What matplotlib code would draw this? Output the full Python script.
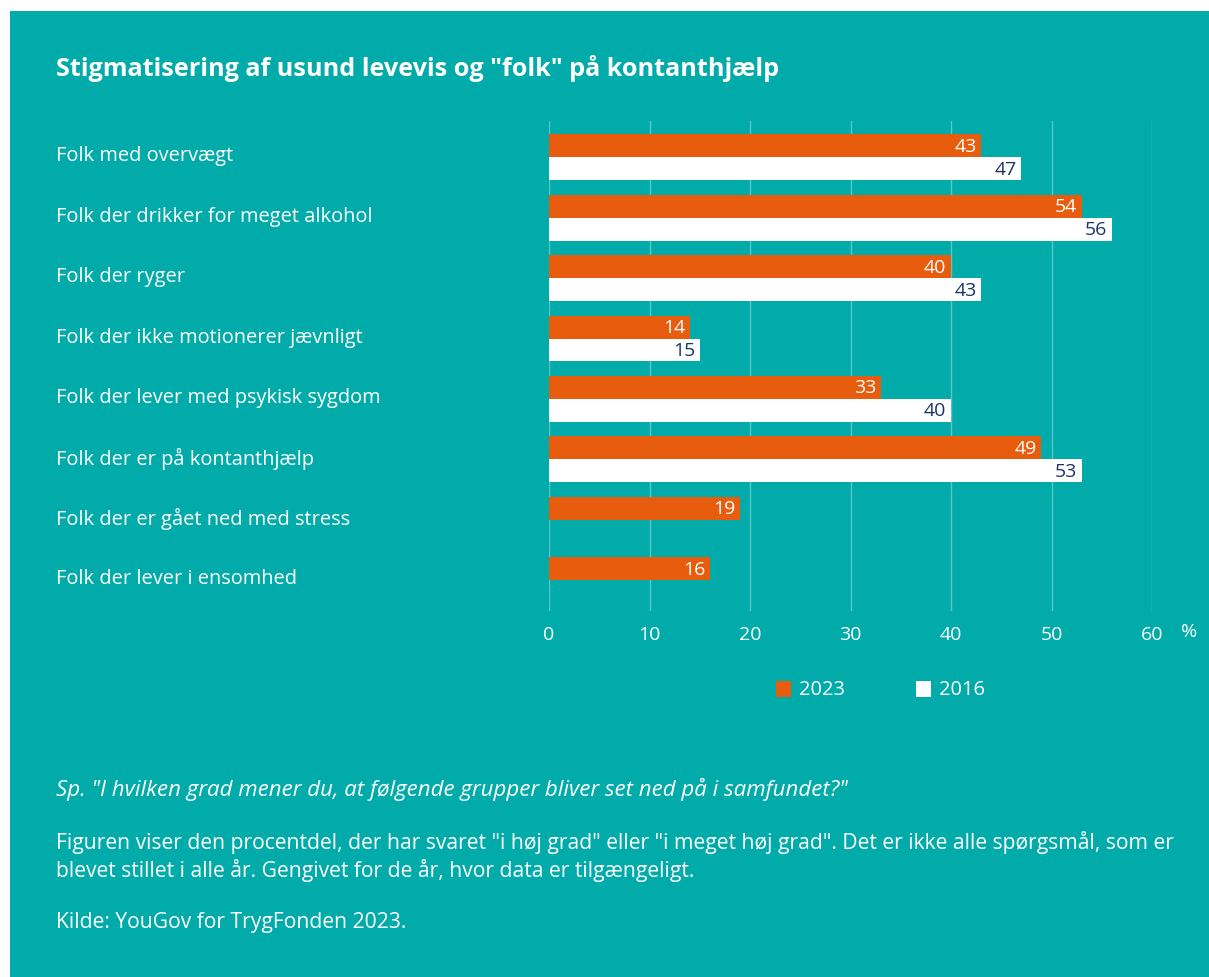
import matplotlib
matplotlib.use("Agg")
import matplotlib.pyplot as plt
from matplotlib.patches import Rectangle
from matplotlib.transforms import blended_transform_factory

categories = [
    "Folk med overvægt",
    "Folk der drikker for meget alkohol",
    "Folk der ryger",
    "Folk der ikke motionerer jævnligt",
    "Folk der lever med psykisk sygdom",
    "Folk der er på kontanthjælp",
    "Folk der er gået ned med stress",
    "Folk der lever i ensomhed",
]
# bar lengths as drawn in the reference
values_2023 = [43, 53, 40, 14, 33, 49, 19, 16]
values_2016 = [47, 56, 43, 15, 40, 53, None, None]
# printed value labels
labels_2023 = ["43", "54", "40", "14", "33", "49", "19", "16"]
labels_2016 = ["47", "56", "43", "15", "40", "53", None, None]
xticks = [0, 10, 20, 30, 40, 50, 60]

TEAL = "#00ABAA"
ORANGE = "#E85C0D"
NAVY = "#1B3566"
GRID = "#5CC6C4"
FONT = ["Open Sans", "DejaVu Sans"]

plt.rcParams["font.family"] = FONT

W, H = 1209, 978
fig = plt.figure(figsize=(W / 100, H / 100), dpi=100, facecolor="white")
fig.patches.append(Rectangle((10 / W, 0), 1 - 10 / W, 1 - 12 / H,
                             transform=fig.transFigure, facecolor=TEAL,
                             edgecolor="none", zorder=-10))

ax = fig.add_axes([549 / W, 1 - 612 / H, 603 / W, 490 / H])
ax.set_facecolor("none")

h = 0.38
for i in range(len(categories)):
    a, la = values_2023[i], labels_2023[i]
    b, lb = values_2016[i], labels_2016[i]
    ax.barh(i - h / 2, a, height=h, color=ORANGE, zorder=3)
    ax.text(a - 0.45, i - h / 2, la, ha="right", va="center",
            color="white", fontsize=14, zorder=4)
    if b is not None:
        ax.barh(i + h / 2, b, height=h, color="white", zorder=3)
        ax.text(b - 0.45, i + h / 2, lb, ha="right", va="center",
                color=NAVY, fontsize=14, zorder=4)

ax.set_xlim(0, 60)
ax.set_ylim(len(categories) - 1 + 0.51, -0.6)
ax.set_xticks(xticks)
ax.set_xticklabels([str(t) for t in xticks])
ax.set_yticks([])
ax.tick_params(axis="x", length=0, pad=10, labelcolor="white", labelsize=14)
for s in ax.spines.values():
    s.set_visible(False)
ax.grid(axis="x", color=GRID, linewidth=1.0, zorder=1)
ax.set_axisbelow(True)

tr = blended_transform_factory(fig.transFigure, ax.transData)
for i, c in enumerate(categories):
    fig.text(56 / W, i - 0.03, c, transform=tr, ha="left", va="center",
             color="white", fontsize=14.4)

fig.text(1189 / W, 1 - 632 / H, "%", ha="center", va="center",
         color="white", fontsize=14)

# title
fig.text(56 / W, 1 - 69 / H, 'Stigmatisering af usund levevis og "folk" på kontanthjælp',
         ha="left", va="center", color="white", fontsize=18.2, fontweight="bold")

# legend
fig.patches.append(Rectangle((776 / W, 1 - 698 / H), 15 / W, 16 / H,
                             transform=fig.transFigure, facecolor=ORANGE,
                             edgecolor="none", zorder=2))
fig.text(799 / W, 1 - 690 / H, "2023", ha="left", va="center",
         color="white", fontsize=14.4)
fig.patches.append(Rectangle((916 / W, 1 - 698 / H), 15 / W, 16 / H,
                             transform=fig.transFigure, facecolor="white",
                             edgecolor="none", zorder=2))
fig.text(939 / W, 1 - 690 / H, "2016", ha="left", va="center",
         color="white", fontsize=14.4)

# notes
fig.text(56 / W, 1 - 789 / H,
         'Sp. "I hvilken grad mener du, at følgende grupper bliver set ned på i samfundet?"',
         ha="left", va="center", color="white", fontsize=16, style="italic")
fig.text(56 / W, 1 - 843 / H,
         'Figuren viser den procentdel, der har svaret "i høj grad" eller "i meget høj grad". '
         'Det er ikke alle spørgsmål, som er',
         ha="left", va="center", color="white", fontsize=15.2)
fig.text(56 / W, 1 - 871 / H,
         "blevet stillet i alle år. Gengivet for de år, hvor data er tilgængeligt.",
         ha="left", va="center", color="white", fontsize=15.2)
fig.text(56 / W, 1 - 923 / H, "Kilde: YouGov for TrygFonden 2023.",
         ha="left", va="center", color="white", fontsize=15.2)

fig.savefig("out.png", dpi=100, facecolor="white")
